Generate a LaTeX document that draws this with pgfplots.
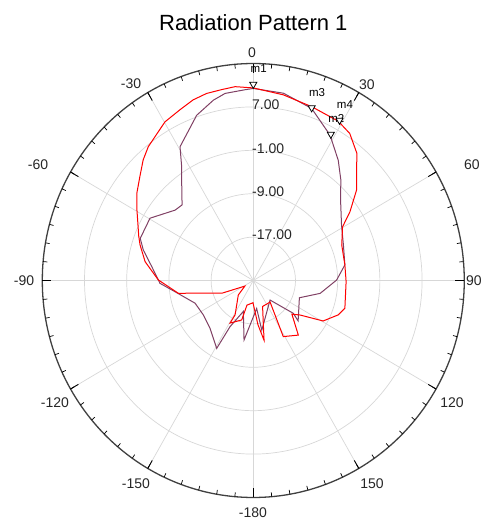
\documentclass[border=0pt]{standalone}
\usepackage{pgfplots}
\pgfplotsset{compat=1.18}
\usepackage{pgfplotstable}
\usepackage{fontspec}
\setmainfont{Liberation Sans}
\definecolor{curvered}{RGB}{255,0,0}
\definecolor{curveplum}{RGB}{128,64,100}
\definecolor{gridgray}{RGB}{215,215,215}

% angle (deg, clockwise from top), gain (dB)
\pgfplotstableread{
th db
0 10.5
9.4 9.7
19.1 8.9
28.7 8.5
34.0 7.7
39.9 5.6
49.6 0.7
55.3 -2.7
59.7 -5.4
68.7 -7.0
80.6 -7.4
90.7 -7.4
106.4 -6.9
111.5 -7.7
119.4 -9.8
125.7 -14.1
130.3 -15.4
139.7 -11.8
151.2 -13.2
141.3 -19.9
159.8 -19.9
169.5 -13.8
173.8 -16.8
180.8 -20.9
194.8 -20.3
196.8 -17.4
209.3 -16.0
208.6 -17.8
226.8 -21.1
237.2 -23.1
248.5 -18.6
260.6 -10.6
270.3 -7.0
279.6 -4.2
287.0 -2.55
290.6 -1.8
300.5 0.6
306.0 2.3
311.7 3.8
316.8 5.5
321.1 6.7
330.2 8.7
336.1 9.4
341.1 10.2
345.6 10.6
350.4 10.7
354.5 10.9
360 10.5
}\redtab

\pgfplotstableread{
th db
0 10.4
9.4 10.0
19.2 8.6
28.5 5.5
36.0 2.4
41.8 -0.1
48.2 -2.8
58.6 -5.4
69.0 -6.7
80.6 -7.4
89.7 -9.2
100.6 -12.1
110.0 -15.7
131.2 -13.7
128.6 -15.3
138.6 -20.2
170.0 -15.7
172.9 -19.8
189.1 -13.9
198.3 -19.0
207.4 -15.4
209.0 -10.7
222.9 -12.95
236.1 -13.6
249.2 -13.2
262.1 -10.0
268.3 -7.3
277.5 -5.6
285.1 -3.4
289.9 -2.2
300.4 -2.3
311.2 -5.3
315.9 -5.6
323.8 -2.0
327.1 0.0
330.6 3.3
340.6 7.3
347.2 9.1
351.2 9.9
357.4 10.2
360 10.4
}\plumtab

\pgfplotstableread{
th db lab
0 10.4 m1
19.6 8.0 m3
29.3 5.05 m2
29.6 8.1 m4
}\marktab

\begin{document}
\begin{tikzpicture}
\begin{axis}[
  x=5.275pt, y=5.425pt,
  xmin=-48.02, xmax=43.92, ymin=-44.15, ymax=51.71,
  hide axis, clip=false,
]
% grid rings
\draw[gridgray, line width=0.7pt] (axis cs:0,0) ellipse [x radius=42.2pt, y radius=43.4pt];
\draw[gridgray, line width=0.7pt] (axis cs:0,0) ellipse [x radius=84.4pt, y radius=86.8pt];
\draw[gridgray, line width=0.7pt] (axis cs:0,0) ellipse [x radius=126.6pt, y radius=130.2pt];
\draw[gridgray, line width=0.7pt] (axis cs:0,0) ellipse [x radius=168.8pt, y radius=173.6pt];
% spokes
\pgfplotsinvokeforeach{0,30,...,330}{
  \draw[gridgray, line width=0.7pt] (axis cs:0,0) -- (axis cs:{40*sin(#1)},{40*cos(#1)});
}
% outer circle and ticks
\draw[black!75, line width=1.3pt] (axis cs:0,0) ellipse [x radius=211pt, y radius=217pt];
\pgfplotsinvokeforeach{0,5,...,355}{
  \draw[black, line width=0.7pt] (axis cs:{40*sin(#1)},{40*cos(#1)}) -- (axis cs:{39.2*sin(#1)},{39.2*cos(#1)});
}
\pgfplotsinvokeforeach{0,30,...,330}{
  \draw[black, line width=0.9pt] (axis cs:{40*sin(#1)},{40*cos(#1)}) -- (axis cs:{38.3*sin(#1)},{38.3*cos(#1)});
}
% ring labels
\begin{scope}[every node/.style={anchor=west, inner sep=0pt, yshift=2pt, font=\fontsize{14}{14}\selectfont, text=black!85}]
\node at (axis cs:-0.25,32) {7.00};
\node at (axis cs:-0.25,24) {-1.00};
\node at (axis cs:-0.25,16) {-9.00};
\node at (axis cs:-0.25,8) {-17.00};
\end{scope}
% angle labels
\begin{scope}[every node/.style={inner sep=0pt, font=\fontsize{14}{14}\selectfont, text=black!85}]
\node at (axis cs:-0.25,41.94) {0};
\node at (axis cs:21.55,36.04) {30};
\node at (axis cs:41.46,21.29) {60};
\node at (axis cs:41.84,-0.09) {90};
\node at (axis cs:37.67,-22.58) {120};
\node at (axis cs:22.5,-37.51) {150};
\node at (axis cs:-0.06,-42.85) {-180};
\node at (axis cs:-22.24,-37.51) {-150};
\node at (axis cs:-37.6,-22.58) {-120};
\node at (axis cs:-43.47,-0.09) {-90};
\node at (axis cs:-40.8,21.29) {-60};
\node at (axis cs:-23.19,36.22) {-30};
\end{scope}
% title
\node[inner sep=0pt, font=\fontsize{22}{22}\selectfont] at (axis cs:0,47.47) {Radiation Pattern 1};
% curves
\addplot[curveplum, line width=1pt] table[x expr={(\thisrow{db}+25)*sin(\thisrow{th})}, y expr={(\thisrow{db}+25)*cos(\thisrow{th})}] {\plumtab};
\addplot[curvered, line width=1pt] table[x expr={(\thisrow{db}+25)*sin(\thisrow{th})}, y expr={(\thisrow{db}+25)*cos(\thisrow{th})}] {\redtab};
% markers
\addplot[only marks, mark=triangle*, mark size=4.1pt,
  mark options={fill=white, draw=black, line width=0.8pt, yshift=4.1pt, rotate=180},
  nodes near coords, point meta=explicit symbolic,
  every node near coord/.style={anchor=base west, xshift=-3pt, yshift=11.5pt, inner sep=0pt, font=\fontsize{11.5}{11.5}\selectfont, text=black}]
  table[x expr={(\thisrow{db}+25)*sin(\thisrow{th})}, y expr={(\thisrow{db}+25)*cos(\thisrow{th})}, meta=lab] {\marktab};
\end{axis}
\pgfresetboundingbox
\path (current axis.south west) rectangle (current axis.north east);
\end{tikzpicture}
\end{document}
